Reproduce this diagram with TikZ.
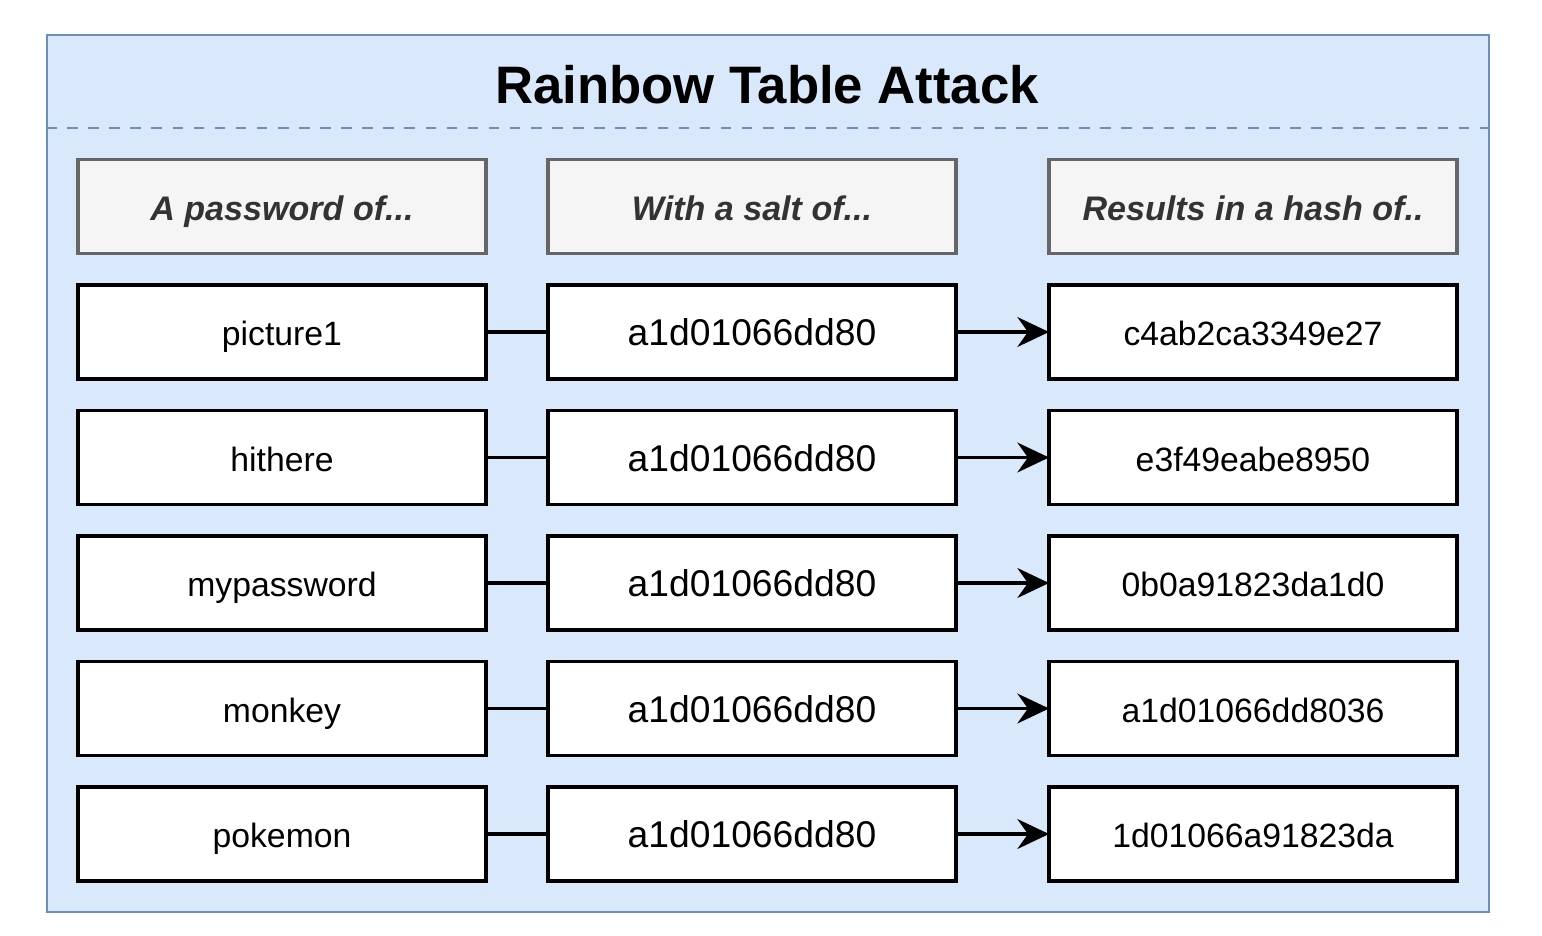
\documentclass[tikz,border=0pt]{standalone}
\usepackage{fontspec}
\setmainfont{Liberation Sans}
\usetikzlibrary{
  arrows.meta,
  positioning
}
\definecolor{rtfill}{HTML}{DAE8FC}
\definecolor{rtborder}{HTML}{6C8EBF}
\definecolor{rtheadfill}{HTML}{F5F5F5}
\definecolor{rthead}{HTML}{666666}
\definecolor{rttext}{HTML}{333333}

\begin{document}
\begin{tikzpicture}[
      cell/.style={
        rectangle, minimum width=4.08cm, minimum height=0.94cm,
        draw=black, line width=0.9pt, fill=white, inner sep=0pt, outer sep=0pt,
        text height=0.78em, text depth=0pt,
        font=\fontsize{9.6}{11}\selectfont
      },
      saltcell/.style={cell, font=\fontsize{10.6}{12}\selectfont},
      header/.style={
        cell, draw=rthead, fill=rtheadfill,
        font=\fontsize{9.7}{11}\selectfont\bfseries\itshape\color{rttext}
      },
      link/.style={line width=0.9pt, black},
      arrow/.style={link, -{Stealth[length=9pt, width=8.5pt, inset=3pt]}}
    ]
      \useasboundingbox (0,0) rectangle (15.42,-9.35);

      % Frame and title
      \node[draw=rtborder, fill=rtfill, line width=0.7pt, anchor=north west,
        minimum width=14.42cm, minimum height=8.77cm] (frame) at (0.46,-0.34) {};
      \node[font=\fontsize{15}{17}\selectfont\bfseries] (title) at (7.67,-0.85) {Rainbow Table Attack};
      \coordinate (sepL) at (0.46,-1.28);
      \coordinate (sepR) at (14.88,-1.28);
      \draw[rtborder, dashed, line width=0.5pt] (sepL) -- (sepR);

      % Column headers
      \node[header] (hpass) at (2.82,-2.065) {A password of...};
      \node[header, right=0.62cm of hpass] (hsalt) {With a salt of...};
      \node[header, right=0.93cm of hsalt] (hhash) {Results in a hash of..};

      % Passwords
      \node[cell, below=0.315cm of hpass] (p1) {picture1};
      \node[cell, below=0.315cm of p1] (p2) {hithere};
      \node[cell, below=0.315cm of p2] (p3) {mypassword};
      \node[cell, below=0.315cm of p3] (p4) {monkey};
      \node[cell, below=0.315cm of p4] (p5) {pokemon};

      % Salts
      \node[saltcell, right=0.62cm of p1] (s1) {a1d01066dd80};
      \node[saltcell, right=0.62cm of p2] (s2) {a1d01066dd80};
      \node[saltcell, right=0.62cm of p3] (s3) {a1d01066dd80};
      \node[saltcell, right=0.62cm of p4] (s4) {a1d01066dd80};
      \node[saltcell, right=0.62cm of p5] (s5) {a1d01066dd80};

      % Hashes
      \node[cell, right=0.93cm of s1] (h1) {c4ab2ca3349e27};
      \node[cell, right=0.93cm of s2] (h2) {e3f49eabe8950};
      \node[cell, right=0.93cm of s3] (h3) {0b0a91823da1d0};
      \node[cell, right=0.93cm of s4] (h4) {a1d01066dd8036};
      \node[cell, right=0.93cm of s5] (h5) {1d01066a91823da};

      % Connectors
      \draw[link] (p1) -- (s1);
      \draw[link] (p2) -- (s2);
      \draw[link] (p3) -- (s3);
      \draw[link] (p4) -- (s4);
      \draw[link] (p5) -- (s5);
      \draw[arrow] (s1) -- (h1);
      \draw[arrow] (s2) -- (h2);
      \draw[arrow] (s3) -- (h3);
      \draw[arrow] (s4) -- (h4);
      \draw[arrow] (s5) -- (h5);
    \end{tikzpicture}
\end{document}
